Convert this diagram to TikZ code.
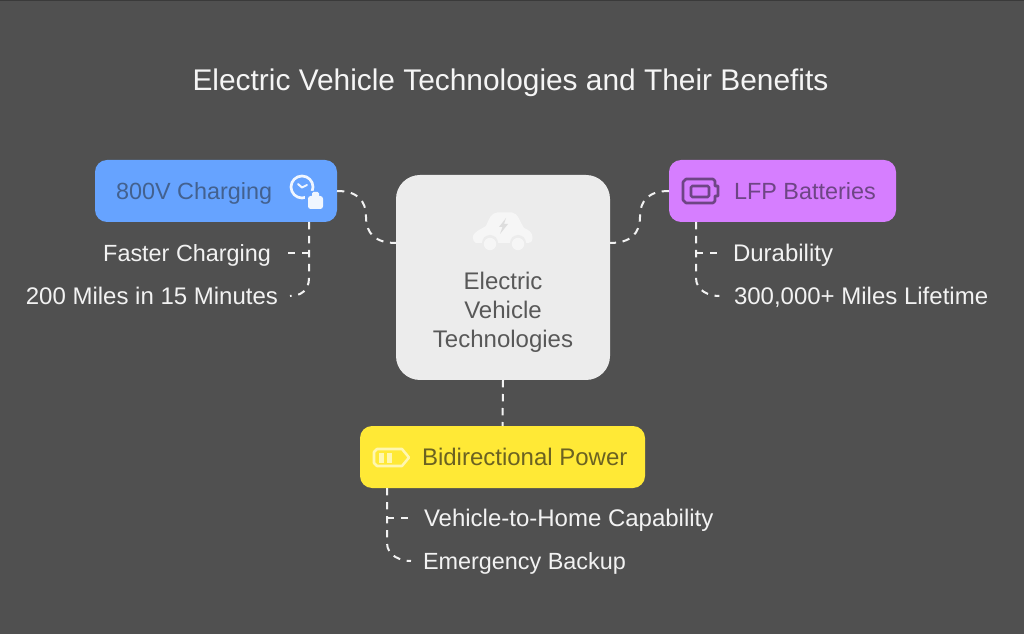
\documentclass[tikz,border=0pt]{standalone}
\usepackage{fontspec}
\setmainfont{Liberation Sans}
\usetikzlibrary{calc}
\definecolor{bgc}{HTML}{505050}
\definecolor{edgec}{HTML}{3A3A3A}
\definecolor{bluec}{HTML}{66A3FF}
\definecolor{purplec}{HTML}{D67EFF}
\definecolor{yellowc}{HTML}{FFE936}
\definecolor{centerc}{HTML}{ECECEC}
\definecolor{linec}{HTML}{F2F2F2}
\definecolor{bluetext}{HTML}{43618F}
\definecolor{purpletext}{HTML}{6E4585}
\definecolor{yellowtext}{HTML}{6B6222}
\definecolor{centertext}{HTML}{585858}
\definecolor{purpleicon}{HTML}{6E4585}
\definecolor{yellowicon}{HTML}{FFF7B0}
\definecolor{caricon}{HTML}{F6F6F6}
\definecolor{bolticon}{HTML}{DDDDDD}
\tikzset{
  x=0.75pt,y=-0.75pt,
  card/.style={inner sep=0pt,outer sep=0pt,rounded corners=9pt},
  txt/.style={inner sep=0pt,outer sep=0pt,font=\fontsize{18pt}{21.75pt}\selectfont,text height=13pt,text depth=0pt},
  tighttxt/.style={font=\fontsize{17.55pt}{21.75pt}\selectfont},
  itemtxt/.style={txt,text=linec},
  conn/.style={draw=linec,line width=1.5pt,dash pattern=on 5.5pt off 5pt},
}
\begin{document}
\begin{tikzpicture}
\useasboundingbox (0,0) rectangle (1024,634);
\fill[bgc] (0,0) rectangle (1024,634);
\fill[edgec] (0,0) rectangle (1024,1.5);

\node[inner sep=0pt,text=white!96!black,font=\fontsize{22.4pt}{26pt}\selectfont] (title) at (510.5,83) {Electric Vehicle Technologies and Their Benefits};

% cards
\node[card,fill=bluec,minimum width=181.5pt,minimum height=46.5pt] (blue) at (216,191) {};
\node[card,fill=purplec,minimum width=170.25pt,minimum height=46.5pt] (purple) at (782.5,191) {};
\node[card,fill=yellowc,minimum width=213.75pt,minimum height=46.5pt] (yellow) at (502.5,457) {};
\node[card,fill=centerc,rounded corners=18pt,minimum width=160.5pt,minimum height=153.75pt] (center) at (503,277.5) {};

% card labels
\node[txt,tighttxt,anchor=west,text=bluetext] (bluelab) at (116,191) {800V Charging};
\node[txt,tighttxt,anchor=west,text=purpletext] (purplelab) at (734,191) {LFP Batteries};
\node[txt,anchor=west,text=yellowtext] (yellowlab) at (422,457) {Bidirectional Power};
\node[inner sep=0pt,align=center,text=centertext,font=\fontsize{18pt}{21.75pt}\selectfont] (centerlab) at (503,312) {Electric\\Vehicle\\Technologies};

% items
\node[itemtxt,tighttxt,anchor=east] (i1) at (271,253) {Faster Charging};
\node[itemtxt,anchor=east] (i2) at (278,296) {200 Miles in 15 Minutes};
\node[itemtxt,anchor=west] (i3) at (733,253) {Durability};
\node[itemtxt,anchor=west] (i4) at (734,296) {300,000+ Miles Lifetime};
\node[itemtxt,anchor=west] (i5) at (424,518) {Vehicle-to-Home Capability};
\node[itemtxt,tighttxt,anchor=west] (i6) at (423,561) {Emergency Backup};

% anchors on card edges
\coordinate (cl) at ($(center.west)+(0,-34.5)$);
\coordinate (cr) at ($(center.east)+(0,-34.5)$);
\coordinate (bs) at ($(blue.south east)+(-28,0)$);
\coordinate (ps) at ($(purple.south west)+(27,0)$);
\coordinate (ys) at ($(yellow.south west)+(27,0)$);
\coordinate (i2e) at ([xshift=9pt]i2.east);
\coordinate (i4w) at ([xshift=-11pt]i4.west);
\coordinate (i6w) at ([xshift=-9pt]i6.west);

% connectors
\draw[conn] (blue.east) .. controls (357,191) and (366,200) .. (366,217) .. controls (366,234) and (376,243) .. (cl);
\draw[conn] (purple.west) .. controls (649,191) and (640,200) .. (640,217) .. controls (640,234) and (630,243) .. (cr);
\draw[conn] (center.south) -- (yellow.north);

\draw[conn] (bs) -- ($(bs |- i2e)+(0,-18)$) .. controls ($(bs |- i2e)+(0,-5)$) and ($(i2e)+(10,0)$) .. (i2e);
\draw[conn] (bs |- i1.east) -- ([xshift=13pt]i1.east);

\draw[conn] (ps) -- ($(ps |- i4w)+(0,-18)$) .. controls ($(ps |- i4w)+(0,-5)$) and ($(i4w)+(-10,0)$) .. (i4w);
\draw[conn] (ps |- i3.west) -- ([xshift=-11pt]i3.west);

\draw[conn] (ys) -- ($(ys |- i6w)+(0,-18)$) .. controls ($(ys |- i6w)+(0,-5)$) and ($(i6w)+(-10,0)$) .. (i6w);
\draw[conn] (ys |- i5.west) -- ([xshift=-11pt]i5.west);

% clock + battery icon
\draw[draw=white!90!bluec,line width=2pt] (302,187) circle (11);
\draw[draw=white!90!bluec,line width=1.5pt,line cap=round,line join=round] (298,184) -- (302,187.5) -- (307,185);
\fill[bluec,rounded corners=3pt] (305,191) rectangle (326,212);
\fill[white!90!bluec,rounded corners=2pt] (308,196) rectangle (323,209);
\fill[white!90!bluec,rounded corners=1pt] (312,192) rectangle (319,198);

% LFP icon
\draw[draw=purpleicon,line width=1.9pt,line join=round] (686,179) -- (713,179) -- (715,181) -- (715,186) -- (718,186) -- (718,196) -- (715,196) -- (715,201) -- (713,203) -- (686,203) -- (683,200) -- (683,182) -- cycle;
\draw[draw=purpleicon,line width=1.9pt,rounded corners=1pt] (691,186) rectangle (709,197);

% bidirectional icon
\draw[draw=yellowicon,line width=1.9pt,line join=round] (377,449) -- (402,449) -- (409,457.5) -- (402,466) -- (377,466) -- (374,463) -- (374,452) -- cycle;
\fill[yellowicon] (379,452.5) rectangle (384,462.5);
\fill[yellowicon] (387,452.5) rectangle (392,462.5);

% car icon
\fill[caricon] (476,243) .. controls (472,241) and (472,235) .. (475,233) .. controls (478,230) and (483,228) .. (486,226) .. controls (489,219) and (491,213) .. (497,212.5) -- (512,212.5) .. controls (518,213) and (520,222) .. (524,228) .. controls (529,230) and (533,233) .. (532.5,238) .. controls (532.5,242) and (530,243) .. (528,243) -- cycle;
\fill[centerc] (490,243) circle (8);
\fill[centerc] (518,243) circle (8);
\fill[caricon] (490,244) circle (6.2);
\fill[caricon] (518,244) circle (6.2);
\fill[bolticon] (506,218) -- (499,227) -- (502.5,227) -- (500,234) -- (508,224) -- (504,224) -- cycle;
\end{tikzpicture}
\end{document}
